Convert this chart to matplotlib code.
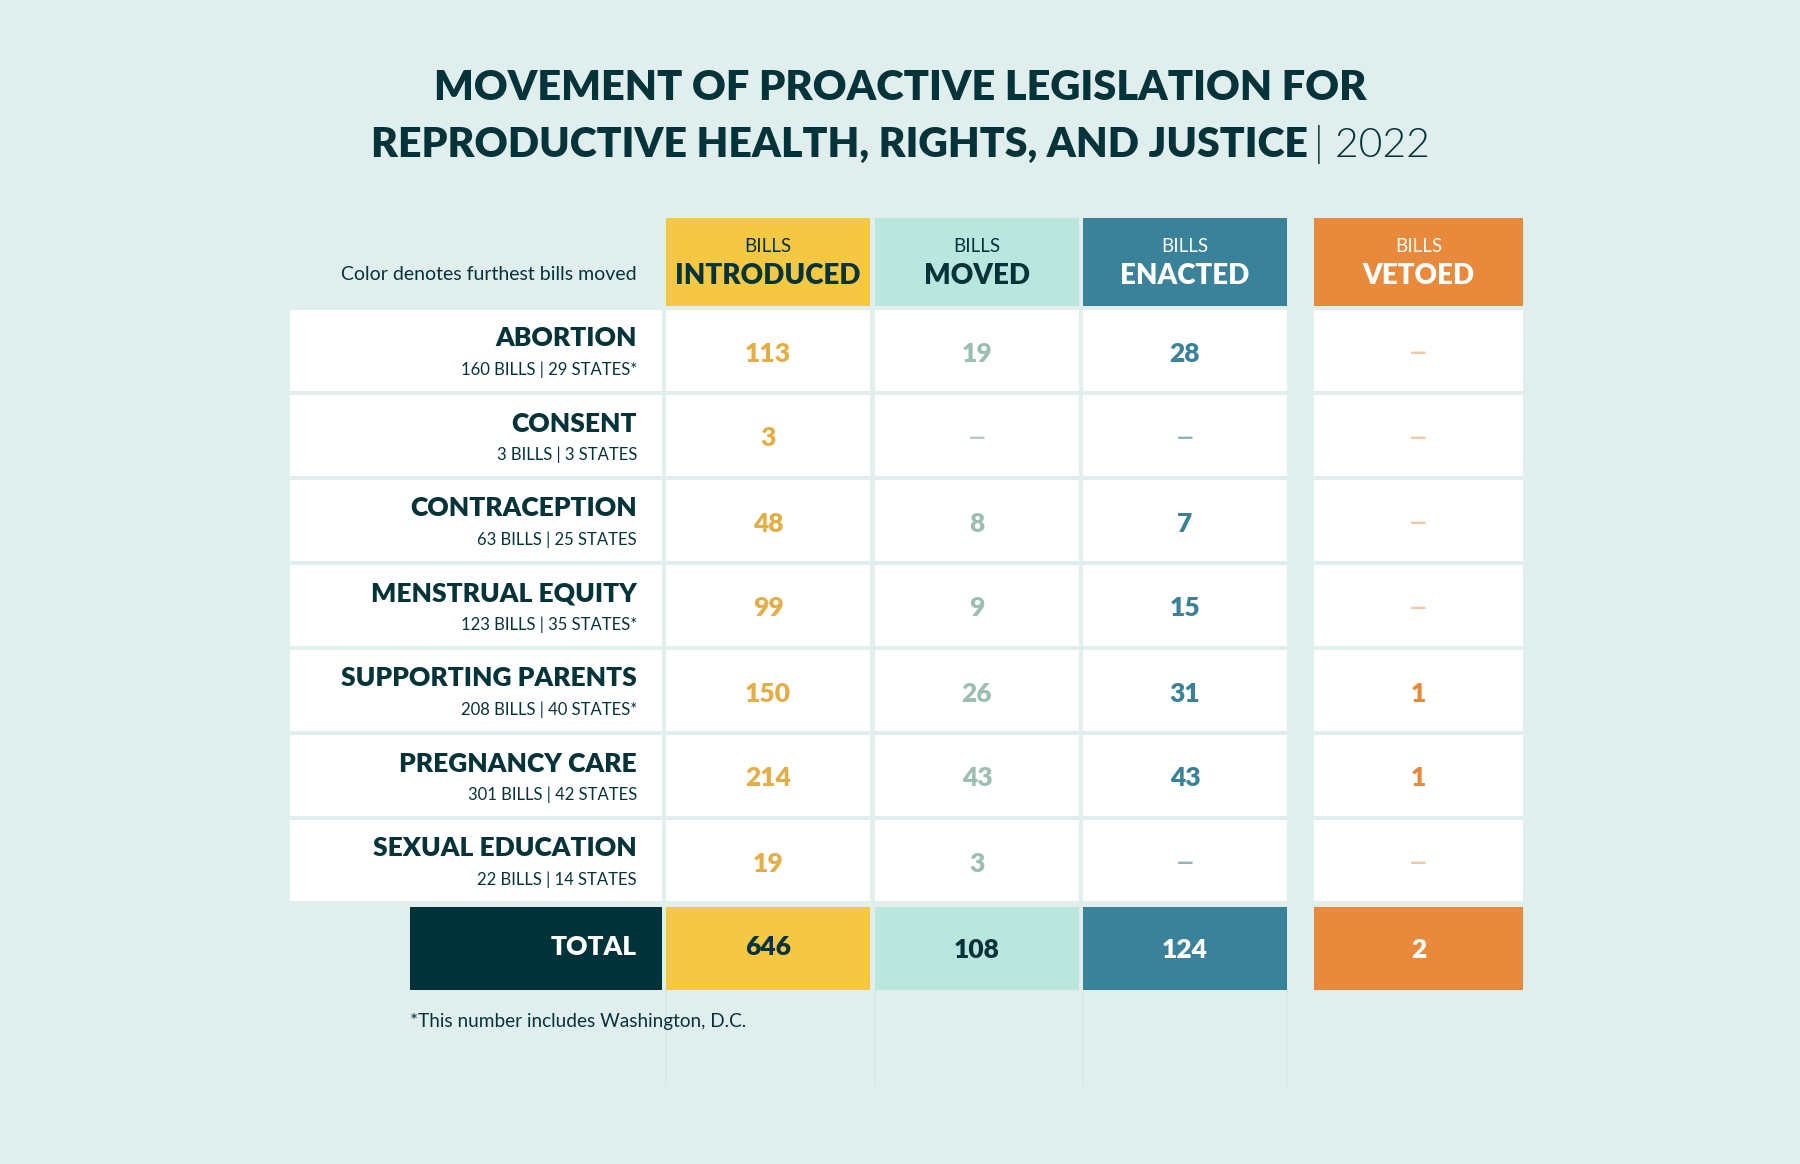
import matplotlib
matplotlib.use("Agg")
import matplotlib.pyplot as plt
from matplotlib.patches import Rectangle

# --- data ---
categories = ["ABORTION", "CONSENT", "CONTRACEPTION", "MENSTRUAL EQUITY",
              "SUPPORTING PARENTS", "PREGNANCY CARE", "SEXUAL EDUCATION"]
sub_labels = ["160 BILLS | 29 STATES*", "3 BILLS | 3 STATES", "63 BILLS | 25 STATES",
              "123 BILLS | 35 STATES*", "208 BILLS | 40 STATES*", "301 BILLS | 42 STATES",
              "22 BILLS | 14 STATES"]
introduced = [113, 3, 48, 99, 150, 214, 19]
moved = [19, None, 8, 9, 26, 43, 3]
enacted = [28, None, 7, 15, 31, 43, None]
vetoed = [None, None, None, None, 1, 1, None]
totals = [646, 108, 124, 2]
col_heads = ["INTRODUCED", "MOVED", "ENACTED", "VETOED"]

# --- style ---
BG = "#e1eeee"
DARK = "#05333a"
FONT = "Lato"
head_fill = ["#f5c844", "#bae6de", "#3a8299", "#e8893b"]
head_text = [DARK, DARK, "white", "white"]
val_color = ["#e3ae48", "#9bbfb2", "#3a8299", "#e8893b"]
dash_color = ["#e9c98a", "#b3cbc4", "#8fb3bf", "#f2c9a3"]
total_text = [DARK, DARK, "white", "white"]

fig = plt.figure(figsize=(18, 11.64), dpi=100)
fig.patch.set_facecolor(BG)
ax = fig.add_axes([0, 0, 1, 1])
ax.set_xlim(0, 1800)
ax.set_ylim(1164, 0)
ax.axis("off")

col_x = [666, 875, 1083, 1314]
col_w = [204, 204, 204, 209]
lab_x0, lab_x1 = 290, 662
head_top, head_h = 218, 88
row_top, pitch, row_h = 310, 85, 81
total_top, total_h = 907, 83

# faint column guides below the table
for x in [666, 875, 1083, 1287]:
    ax.plot([x, x], [990, 1085], color="#d9e7e9", lw=1.2, zorder=0)

# header
ax.text(lab_x1 - 25, 275, "Color denotes furthest bills moved", ha="right", va="center",
        fontsize=14, family=FONT, color=DARK)
for i, x in enumerate(col_x):
    ax.add_patch(Rectangle((x, head_top), col_w[i], head_h, color=head_fill[i], lw=0))
    cx = x + col_w[i] / 2
    ax.text(cx, 247, "BILLS", ha="center", va="center", fontsize=13.5, family=FONT,
            fontweight="normal", color=head_text[i])
    ax.text(cx, 276, col_heads[i], ha="center", va="center", fontsize=20, family=FONT,
            fontweight="heavy", color=head_text[i])

# body rows
cols = [introduced, moved, enacted, vetoed]
for r, name in enumerate(categories):
    y0 = row_top + r * pitch
    yc = y0 + row_h / 2
    ax.add_patch(Rectangle((lab_x0, y0), lab_x1 - lab_x0, row_h, color="white", lw=0))
    ax.text(lab_x1 - 25, yc - 12, name, ha="right", va="center", fontsize=19,
            family=FONT, fontweight="heavy", color=DARK)
    ax.text(lab_x1 - 25, yc + 19, sub_labels[r], ha="right", va="center", fontsize=12,
            family=FONT, color=DARK)
    for c, x in enumerate(col_x):
        ax.add_patch(Rectangle((x, y0), col_w[c], row_h, color="white", lw=0))
        v = cols[c][r]
        if v is None:
            ax.text(x + col_w[c] / 2, yc + 2, "\u2014", ha="center", va="center",
                    fontsize=15, family=FONT, fontweight="heavy", color=dash_color[c])
        else:
            ax.text(x + col_w[c] / 2, yc + 3, str(v), ha="center", va="center",
                    fontsize=19, family=FONT, fontweight="heavy", color=val_color[c])

# totals
ax.add_patch(Rectangle((410, total_top), lab_x1 - 410, total_h, color="#00323a", lw=0))
ax.text(lab_x1 - 25, total_top + 40, "TOTAL", ha="right", va="center", fontsize=19,
        family=FONT, fontweight="heavy", color="white")
for c, x in enumerate(col_x):
    ax.add_patch(Rectangle((x, total_top), col_w[c], total_h, color=head_fill[c], lw=0))
    ax.text(x + col_w[c] / 2, total_top + (40 if c == 0 else 43), str(totals[c]),
            ha="center", va="center", fontsize=19, family=FONT, fontweight="heavy",
            color=total_text[c])

ax.text(410, 1022, "*This number includes Washington, D.C.", ha="left", va="center",
        fontsize=13.7, family=FONT, color=DARK)

# title
ax.text(900, 88, "MOVEMENT OF PROACTIVE LEGISLATION FOR", ha="center", va="center",
        fontsize=30, family=FONT, fontweight="heavy", color=DARK)
renderer = fig.canvas.get_renderer()
t_bold = ax.text(0, 145, "REPRODUCTIVE HEALTH, RIGHTS, AND JUSTICE", ha="left",
                 va="center", fontsize=29.5, family=FONT, fontweight="heavy", color=DARK)
t_light = ax.text(0, 145, "| 2022", ha="left", va="center", fontsize=29.5, family=FONT,
                  fontweight=300, color=DARK)
w_bold = t_bold.get_window_extent(renderer).width
w_light = t_light.get_window_extent(renderer).width
gap = 6
start = 900 - (w_bold + gap + w_light) / 2
t_bold.set_x(start)
t_light.set_x(start + w_bold + gap)

fig.savefig("out.png", dpi=100, facecolor=BG)
